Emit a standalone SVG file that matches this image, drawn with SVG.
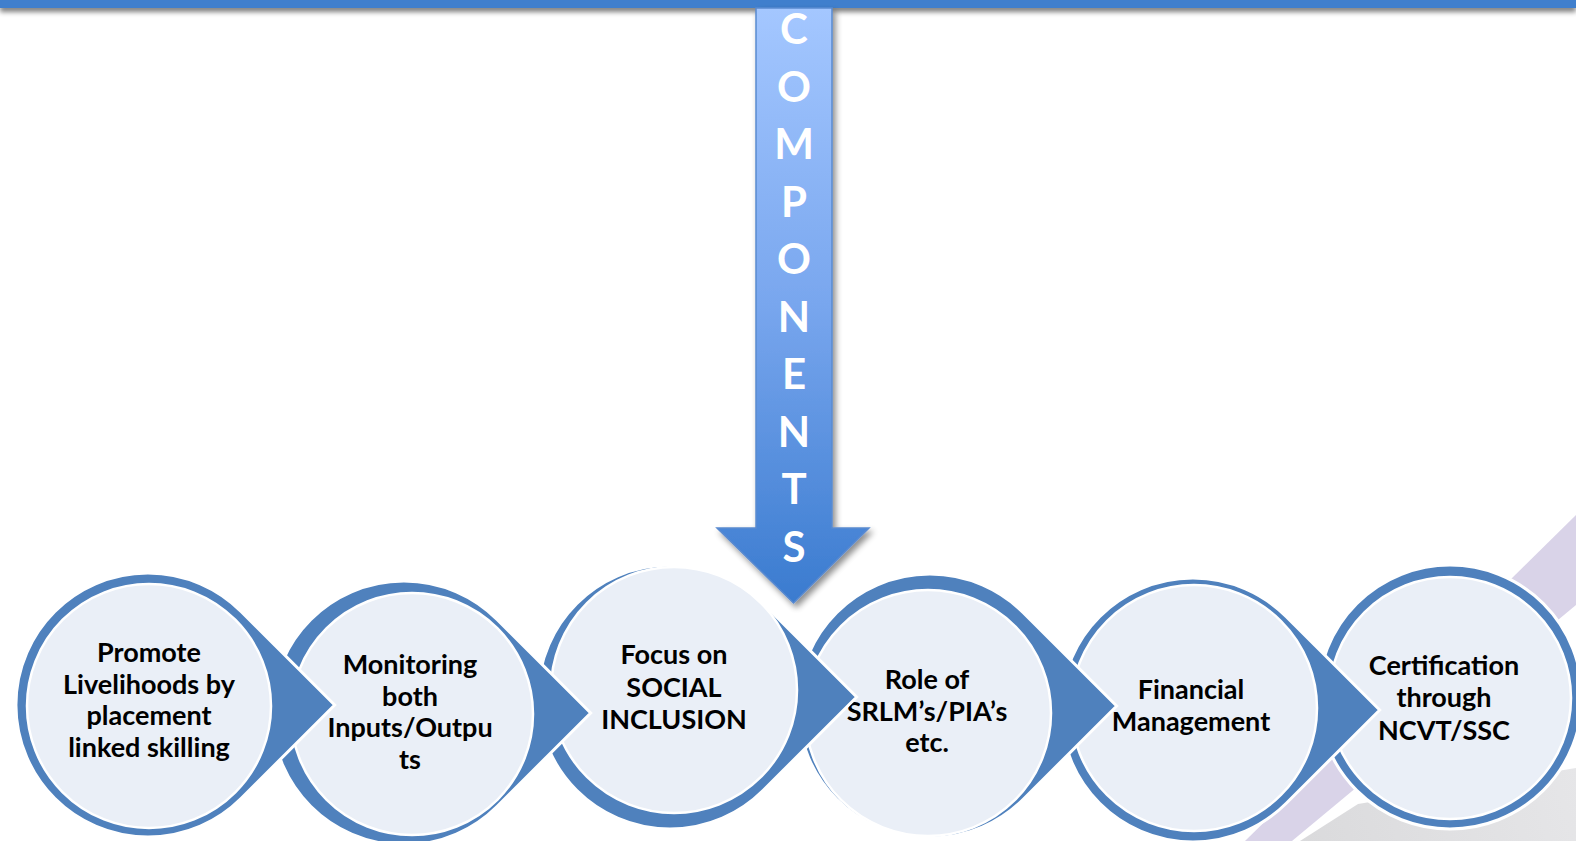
<svg xmlns="http://www.w3.org/2000/svg" width="1576" height="841" viewBox="0 0 1576 841">
  <defs>
    <linearGradient id="shaftFill" x1="0" y1="8" x2="0" y2="603" gradientUnits="userSpaceOnUse">
      <stop offset="0" stop-color="#A4C7FF"/>
      <stop offset="0.5" stop-color="#78A6EE"/>
      <stop offset="1" stop-color="#3A7BCF"/>
    </linearGradient>
    <linearGradient id="greyFill" x1="1300" y1="841" x2="1576" y2="760" gradientUnits="userSpaceOnUse">
      <stop offset="0" stop-color="#DADADC"/>
      <stop offset="1" stop-color="#E6E6E8"/>
    </linearGradient>
    <filter id="dropShadow" x="-20%" y="-10%" width="150%" height="130%">
      <feGaussianBlur in="SourceAlpha" stdDeviation="3"/>
      <feOffset dx="3" dy="4" result="blur"/>
      <feComponentTransfer><feFuncA type="linear" slope="0.45"/></feComponentTransfer>
      <feMerge><feMergeNode/><feMergeNode in="SourceGraphic"/></feMerge>
    </filter>
    <filter id="barShadow" x="0" y="-50%" width="100%" height="300%">
      <feGaussianBlur in="SourceAlpha" stdDeviation="2.5"/>
      <feOffset dx="0" dy="4"/>
      <feComponentTransfer><feFuncA type="linear" slope="0.5"/></feComponentTransfer>
      <feMerge><feMergeNode/><feMergeNode in="SourceGraphic"/></feMerge>
    </filter>
  </defs>
  <style>
    .ring { fill: #4F81BD; stroke: #FFFFFF; stroke-width: 3; stroke-linejoin: miter; }
    .disc { fill: #EAEFF7; stroke: #FFFFFF; stroke-width: 2.5; }
    .label { font-family: Lato, "Liberation Sans", sans-serif; font-weight: 700; font-size: 27px; fill: #000000; text-anchor: middle; }
    .letter { font-family: Lato, "Liberation Sans", sans-serif; font-weight: 700; font-size: 42px; fill: #FFFFFF; text-anchor: middle; }
  </style>

  <rect width="1576" height="841" fill="#FFFFFF"/>

  <!-- decorative bands, lower right -->
  <g id="backdrop">
    <polygon points="1576,515 1576,605 1292,841 1245,841" fill="#D9D3E8"/>
    <polygon points="1300,841 1358,804 1576,768 1576,841" fill="url(#greyFill)"/>
  </g>

  <!-- header bar -->
  <rect id="header-bar" x="0" y="0" width="1576" height="8" fill="#3F7FCD" filter="url(#barShadow)"/>

  <!-- process steps, drawn last to first so each pointer overlaps the next step -->
  <g id="node-6">
    <circle class="ring" cx="1450" cy="697" r="132"/>
    <circle class="disc" cx="1450" cy="698" r="121"/>
    <text class="label" x="1444" y="675">Certification</text>
    <text class="label" x="1444" y="707">through</text>
    <text class="label" x="1444" y="740">NCVT/SSC</text>
  </g>

  <g id="node-5">
    <path class="ring" d="M1379.7,710 L1286.3,803.3 A132,132 0 1 1 1286.3,616.7 Z"/>
    <circle class="disc" cx="1194" cy="708" r="123"/>
    <text class="label" x="1191" y="699">Financial</text>
    <text class="label" x="1191" y="731">Management</text>
  </g>

  <g id="node-4">
    <path class="ring" d="M1116.7,706 L1023.3,799.3 A132,132 0 1 1 1023.3,612.7 Z"/>
    <circle class="disc" cx="928" cy="713" r="123"/>
    <text class="label" x="927" y="689">Role of</text>
    <text class="label" x="927" y="721">SRLM’s/PIA’s</text>
    <text class="label" x="927" y="752">etc.</text>
  </g>

  <g id="node-3">
    <path class="ring" d="M856.7,697 L763.3,790.3 A132,132 0 1 1 763.3,603.7 Z"/>
    <circle class="disc" cx="674" cy="690" r="123"/>
    <text class="label" x="674" y="664">Focus on</text>
    <text class="label" x="674" y="697">SOCIAL</text>
    <text class="label" x="674" y="729">INCLUSION</text>
  </g>

  <g id="node-2">
    <path class="ring" d="M590.7,713 L497.3,806.3 A132,132 0 1 1 497.3,619.7 Z"/>
    <circle class="disc" cx="412" cy="714" r="121"/>
    <text class="label" x="410" y="674">Monitoring</text>
    <text class="label" x="410" y="706">both</text>
    <text class="label" x="410" y="737">Inputs/Outpu</text>
    <text class="label" x="410" y="769">ts</text>
  </g>

  <g id="node-1">
    <path class="ring" d="M334.7,705 L241.3,798.3 A132,132 0 1 1 241.3,611.7 Z"/>
    <circle class="disc" cx="149" cy="706" r="122"/>
    <text class="label" x="149" y="662">Promote</text>
    <text class="label" x="149" y="694">Livelihoods by</text>
    <text class="label" x="149" y="725">placement</text>
    <text class="label" x="149" y="757">linked skilling</text>
  </g>

  <!-- downward arrow feeding the row of steps -->
  <g id="connectors">
    <g id="components-arrow" filter="url(#dropShadow)">
      <path d="M756,8 L832,8 L832,528 L869,528 L793.5,603 L717,528 L756,528 Z" fill="url(#shaftFill)" stroke="#5A8AD0" stroke-width="1.5" stroke-linejoin="miter"/>
    </g>
    <g id="components-label">
      <text class="letter" x="794" y="44">C</text>
      <text class="letter" x="794" y="101.5">O</text>
      <text class="letter" x="794" y="159">M</text>
      <text class="letter" x="794" y="216.5">P</text>
      <text class="letter" x="794" y="274">O</text>
      <text class="letter" x="794" y="331.5">N</text>
      <text class="letter" x="794" y="389">E</text>
      <text class="letter" x="794" y="446.5">N</text>
      <text class="letter" x="794" y="504">T</text>
      <text class="letter" x="794" y="561.5">S</text>
    </g>
  </g>
</svg>
